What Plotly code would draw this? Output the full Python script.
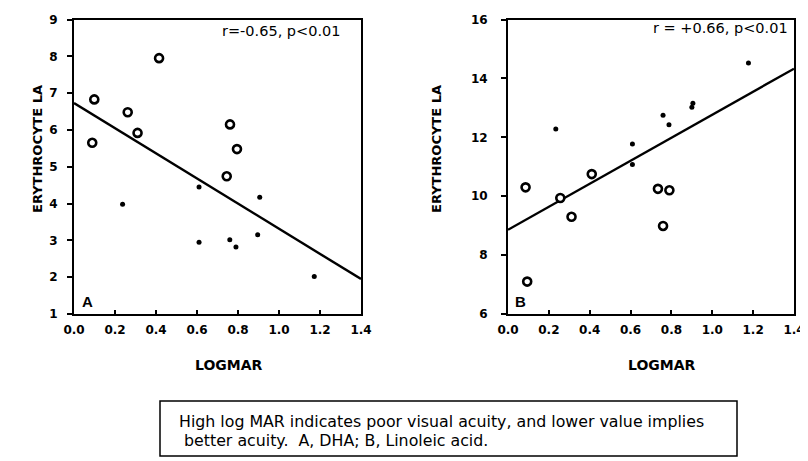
import plotly.graph_objects as go

# ---- data ----
# Panel A (DHA)
a_open_x = [0.089, 0.099, 0.262, 0.31, 0.415, 0.761, 0.795, 0.745]
a_open_y = [5.65, 6.83, 6.48, 5.92, 7.95, 6.15, 5.48, 4.74]
a_dot_x = [0.237, 0.61, 0.61, 0.76, 0.79, 0.906, 0.896, 1.172]
a_dot_y = [3.98, 4.45, 2.95, 3.02, 2.82, 4.17, 3.15, 2.02]
a_fit_x = [0.0, 1.4]
a_fit_y = [6.73, 1.95]

# Panel B (Linoleic acid)
b_open_x = [0.086, 0.094, 0.256, 0.311, 0.41, 0.734, 0.79, 0.759]
b_open_y = [10.30, 7.10, 9.94, 9.30, 10.75, 10.25, 10.20, 8.99]
b_dot_x = [0.234, 0.609, 0.609, 0.759, 0.788, 0.90, 0.905, 1.177]
b_dot_y = [12.28, 11.77, 11.08, 12.75, 12.43, 13.02, 13.16, 14.52]
b_fit_x = [0.0, 1.4]
b_fit_y = [8.86, 14.33]

x_ticks = [0.0, 0.2, 0.4, 0.6, 0.8, 1.0, 1.2, 1.4]
x_ticklabels = ["0.0", "0.2", "0.4", "0.6", "0.8", "1.0", "1.2", "1.4"]
a_yticks = [1, 2, 3, 4, 5, 6, 7, 8, 9]
b_yticks = [6, 8, 10, 12, 14, 16]

stat_a = "r=-0.65, p<0.01"
stat_b = "r = +0.66, p<0.01"
caption = ["High log MAR indicates poor visual acuity, and lower value implies",
           " better acuity.  A, DHA; B, Linoleic acid."]

# The page body has the browser's default 8px margin, so the figure is drawn
# 8px in from the top-left corner of the 808x461 window.
OFF = 8
W, H = 808 - OFF, 461 - OFF
def px(x): return (x - OFF) / W
def py(y): return 1 - (y - OFF) / H

FONT = "Liberation Sans, Arial, sans-serif"
WIDE = "DejaVu Sans, sans-serif"

fig = go.Figure()

open_marker = dict(symbol="circle", size=8, color="white", line=dict(color="black", width=2.6))
dot_marker = dict(symbol="circle", size=5, color="black", line=dict(width=0))

for fx, fy, xa, ya in [(a_fit_x, a_fit_y, "x", "y"), (b_fit_x, b_fit_y, "x2", "y2")]:
    fig.add_trace(go.Scatter(x=fx, y=fy, mode="lines", line=dict(color="black", width=2.4),
                             xaxis=xa, yaxis=ya, showlegend=False, hoverinfo="skip"))
for xs, ys, xa, ya in [(a_open_x, a_open_y, "x", "y"), (b_open_x, b_open_y, "x2", "y2")]:
    fig.add_trace(go.Scatter(x=xs, y=ys, mode="markers", marker=open_marker,
                             xaxis=xa, yaxis=ya, showlegend=False))
for xs, ys, xa, ya in [(a_dot_x, a_dot_y, "x", "y"), (b_dot_x, b_dot_y, "x2", "y2")]:
    fig.add_trace(go.Scatter(x=xs, y=ys, mode="markers", marker=dot_marker,
                             xaxis=xa, yaxis=ya, showlegend=False))

tickfont = dict(family=WIDE, size=12, color="black", weight="bold")
common_x = dict(range=[0, 1.4], tickvals=x_ticks, ticktext=x_ticklabels, showgrid=False,
                zeroline=False, showline=True, linecolor="black", linewidth=2, mirror=True,
                ticks="inside", ticklen=4, tickwidth=1.5, tickcolor="black",
                tickfont=tickfont, ticklabelstandoff=4, automargin=False)
common_y = dict(showgrid=False, zeroline=False, showline=True, linecolor="black", linewidth=2,
                mirror=True, ticks="outside", ticklen=5, tickwidth=1.5, tickcolor="black",
                tickfont=tickfont, automargin=False)

y_dom = [py(314), py(19.5)]
fig.update_layout(
    width=W, height=H, margin=dict(l=0, r=0, t=0, b=0, autoexpand=False),
    paper_bgcolor="white", plot_bgcolor="white",
    xaxis=dict(domain=[px(74), px(361)], anchor="y", **common_x),
    yaxis=dict(domain=y_dom, anchor="x", range=[1, 9], tickvals=a_yticks,
               ticklabelstandoff=7, **common_y),
    xaxis2=dict(domain=[px(508), px(794)], anchor="y2", **common_x),
    yaxis2=dict(domain=y_dom, anchor="x2", range=[6, 16], tickvals=b_yticks,
                ticklabelstandoff=11, **common_y),
)

ann = []
def add(text, x, y, size, bold=False, angle=0, xanchor="center", family=FONT):
    ann.append(dict(text=text, x=px(x), y=py(y), xref="paper", yref="paper", showarrow=False,
                    xanchor=xanchor, yanchor="middle", textangle=angle,
                    font=dict(family=family, size=size, color="black",
                              weight="bold" if bold else "normal")))

add("ERYTHROCYTE LA", 37, 149, 13, bold=True, angle=-90, family=WIDE)
add("ERYTHROCYTE LA", 436, 149, 13, bold=True, angle=-90, family=WIDE)
add("LOGMAR", 229, 365, 14, bold=True, family=WIDE)
add("LOGMAR", 662, 365, 14, bold=True, family=WIDE)
add(stat_a, 343, 31, 14.5, xanchor="right", family=WIDE)
add(stat_b, 790, 28, 14.5, xanchor="right", family=WIDE)
add("A", 87, 301, 15, bold=True)
add("B", 520, 301, 15, bold=True)
add(caption[0], 177, 421, 15.8, xanchor="left", family=WIDE)
add(caption[1], 177, 440, 15.8, xanchor="left", family=WIDE)
fig.update_layout(annotations=ann)

fig.add_shape(type="rect", xref="paper", yref="paper", x0=px(160), x1=px(737),
              y0=py(456), y1=py(401), line=dict(color="black", width=1.5))

fig.write_html("out.html")
